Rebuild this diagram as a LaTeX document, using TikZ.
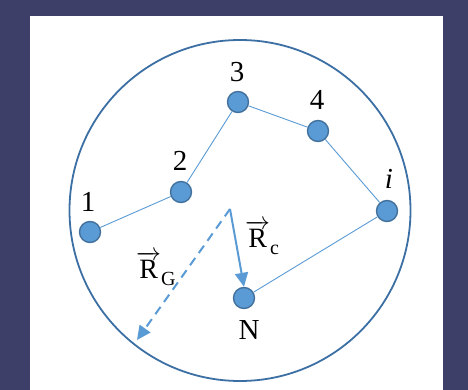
\documentclass[tikz,border=0pt]{standalone}
\usepackage{fontspec}
\setmainfont{Liberation Serif}
\usetikzlibrary{arrows.meta}
\definecolor{bg}{HTML}{3E3F68}
\definecolor{nodefill}{HTML}{5B9BD5}
\definecolor{nodeedge}{HTML}{41719C}
\definecolor{ringcol}{HTML}{3C6FA3}
\tikzset{
  bead/.style={circle,fill=nodefill,draw=nodeedge,line width=1.4pt,minimum size=21pt,inner sep=0pt},
  bond/.style={draw=nodefill,line width=0.9pt},
  lab/.style={font=\fontsize{29}{31}\selectfont,inner sep=0pt},
  veclab/.style={font=\fontsize{28}{30}\selectfont,inner sep=0pt,anchor=base west},
  vecarrow/.style={draw=nodefill,line width=2pt,-{Triangle[length=14pt,width=13pt]}},
}
\newcommand{\myvec}[1]{$\overrightarrow{\hbox{R}}$\raisebox{-7pt}{\fontsize{20}{22}\selectfont #1}}
\begin{document}
\begin{tikzpicture}[x=1pt,y=-1pt]
\useasboundingbox (0,0) rectangle (468,390);
\fill[bg] (0,0) rectangle (468,390);
\fill[white] (30,16) rectangle (443,390);
\node[circle,draw=ringcol,line width=1.8pt,minimum size=341pt,inner sep=0pt] (ring) at (240,210.5) {};
\node[bead] (n1) at (90,232) {};
\node[bead] (n2) at (181,192) {};
\node[bead] (n3) at (238,102) {};
\node[bead] (n4) at (318,131) {};
\node[bead] (ni) at (387,211) {};
\node[bead] (nN) at (244,298) {};
\draw[bond] (n1) -- (n2) -- (n3) -- (n4) -- (ni) -- (nN);
\node[lab] (l1) at (88,202) {1};
\node[lab] (l2) at (180,161) {2};
\node[lab] (l3) at (237,72) {3};
\node[lab] (l4) at (317,100) {4};
\node[lab] (li) at (389,179) {\itshape i};
\node[lab] (lN) at (249,330) {N};
\coordinate (cm) at (230,209);
\coordinate (gend) at (137,340);
\draw[vecarrow] (cm) -- (nN.north);
\draw[vecarrow,dash pattern=on 9pt off 6pt] (cm) -- (gend);
\node[veclab] (rc) at (245,247) {\myvec{c}};
\node[veclab] (rg) at (136,278) {\myvec{G}};
\end{tikzpicture}
\end{document}
